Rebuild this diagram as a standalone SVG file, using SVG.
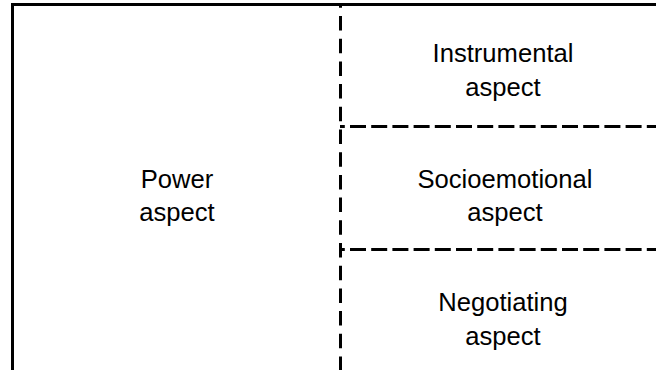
<svg xmlns="http://www.w3.org/2000/svg" width="656" height="370" viewBox="0 0 656 370">
  <style>
    .label { font-family: "Liberation Sans", Arial, sans-serif; font-size: 25.6px; fill: #000; text-anchor: middle; }
    .solid { stroke: #000; stroke-width: 3; fill: none; }
    .vdash { stroke: #000; stroke-width: 3; fill: none; stroke-dasharray: 14.5 8.2; stroke-dashoffset: 11.2; }
    .hdash { stroke: #000; stroke-width: 3; fill: none; stroke-dasharray: 16 5.2; stroke-dashoffset: 11.2; }
  </style>
  <rect width="656" height="370" fill="#fff"/>

  <!-- grid lines -->
  <g id="connectors">
    <line class="vdash" x1="340.5" y1="4.5" x2="340.5" y2="370"/>
    <line class="hdash" x1="340" y1="126.5" x2="656" y2="126.5"/>
    <line class="hdash" x1="340" y1="249.5" x2="656" y2="249.5"/>
    <line class="solid" x1="11" y1="4.5" x2="656" y2="4.5"/>
    <line class="solid" x1="12.5" y1="3" x2="12.5" y2="370"/>
  </g>

  <g id="power">
    <text class="label" x="177" y="188">Power</text>
    <text class="label" x="177" y="221">aspect</text>
  </g>
  <g id="instrumental">
    <text class="label" x="503" y="62">Instrumental</text>
    <text class="label" x="503" y="96">aspect</text>
  </g>
  <g id="socioemotional">
    <text class="label" x="505" y="188">Socioemotional</text>
    <text class="label" x="505" y="221">aspect</text>
  </g>
  <g id="negotiating">
    <text class="label" x="503" y="311">Negotiating</text>
    <text class="label" x="503" y="345">aspect</text>
  </g>
</svg>
